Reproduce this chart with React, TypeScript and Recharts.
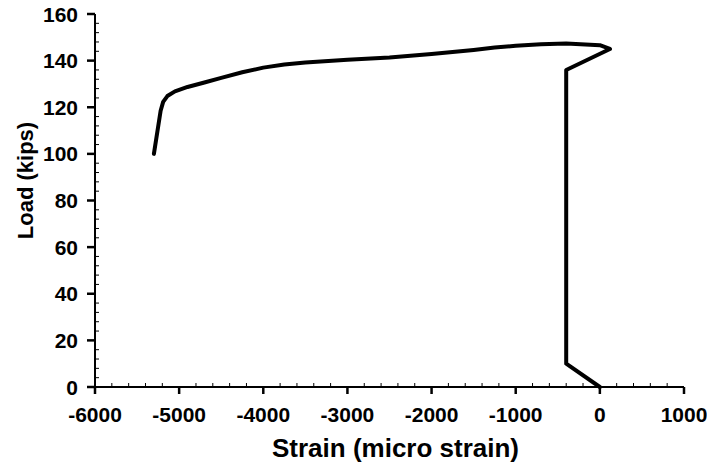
import { Line, LineChart, XAxis, YAxis } from 'recharts';

// strain (micro strain) and load (kips), in the order the gauge trace was recorded
const strain = [0, -400, -400, 120, 0, -400, -700, -1000, -1250, -1500, -2000, -2500, -3000, -3500, -3750, -4000, -4250, -4500, -4700, -4900, -5050, -5140, -5190, -5220, -5300];
const load = [0, 10, 136, 145, 146.6, 147.3, 147, 146.4, 145.6, 144.6, 142.8, 141.3, 140.4, 139.2, 138.3, 137, 135, 132.6, 130.6, 128.7, 126.8, 124.8, 122.3, 118.5, 100];

const xMajorTicks = [-6000, -5000, -4000, -3000, -2000, -1000, 0, 1000];
const yMajorTicks = [0, 20, 40, 60, 80, 100, 120, 140, 160];
const xMinorStep = 200;
const yMinorStep = 4;

const data = strain.map((s, i) => ({ strain: s, load: load[i] }));

const range = (lo: number, hi: number, step: number) => {
  const out: number[] = [];
  for (let v = lo; v <= hi + 1e-9; v += step) out.push(Math.round(v * 1000) / 1000);
  return out;
};

const xMinorTicks = range(xMajorTicks[0], xMajorTicks[xMajorTicks.length - 1], xMinorStep);
const yMinorTicks = range(yMajorTicks[0], yMajorTicks[yMajorTicks.length - 1], yMinorStep);
const xMinorOnly = xMinorTicks.filter((v) => !xMajorTicks.includes(v));
const yMinorOnly = yMinorTicks.filter((v) => !yMajorTicks.includes(v));

const FONT = '"Liberation Sans", Arial, sans-serif';
const TICK_FONT = 21;
const INK = '#000';

function BottomTick({ x, y, payload }: any) {
  const v = payload.value;
  if (xMajorTicks.includes(v)) {
    return (
      <g>
        <line x1={x} y1={y} x2={x} y2={y + 7} stroke={INK} strokeWidth={2.5} />
        <text x={x} y={y + 35} textAnchor="middle" fontFamily={FONT} fontWeight="bold" fontSize={TICK_FONT} fill={INK}>
          {v}
        </text>
      </g>
    );
  }
  return <line x1={x} y1={y} x2={x} y2={y - 4} stroke={INK} strokeWidth={1} />;
}

function LeftTick({ x, y, payload }: any) {
  const v = payload.value;
  if (yMajorTicks.includes(v)) {
    return (
      <g>
        <line x1={x - 8} y1={y} x2={x} y2={y} stroke={INK} strokeWidth={2.5} />
        <text x={x - 17} y={y + 7.5} textAnchor="end" fontFamily={FONT} fontWeight="bold" fontSize={TICK_FONT} fill={INK}>
          {v}
        </text>
      </g>
    );
  }
  return <line x1={x} y1={y} x2={x + 4} y2={y} stroke={INK} strokeWidth={1} />;
}

function TopTick({ x, y }: any) {
  return <line x1={x} y1={y} x2={x} y2={y + 4} stroke={INK} strokeWidth={1} />;
}

function RightTick({ x, y }: any) {
  return <line x1={x} y1={y} x2={x - 4} y2={y} stroke={INK} strokeWidth={1} />;
}

export default function App() {
  return (
    <div style={{ position: 'absolute', left: 0, top: 0 }}>
      <LineChart width={707} height={463} data={data} margin={{ top: 14, right: 23, bottom: 0, left: 0 }}>
        <XAxis
          xAxisId="x"
          dataKey="strain"
          type="number"
          domain={[-6000, 1000]}
          ticks={xMinorTicks}
          interval={0}
          height={76}
          tickSize={0}
          tickMargin={0}
          tickLine={false}
          tick={<BottomTick />}
          axisLine={{ stroke: INK, strokeWidth: 2 }}
          label={{
            content: ({ viewBox }: any) => (
              <text
                x={viewBox.x + viewBox.width / 2 + 6}
                y={viewBox.y + 70}
                textAnchor="middle"
                fontFamily={FONT}
                fontWeight="bold"
                fontSize={26}
                fill={INK}
              >
                Strain (micro strain)
              </text>
            ),
          }}
        />
        <XAxis
          xAxisId="xt"
          orientation="top"
          type="number"
          domain={[-6000, 1000]}
          ticks={xMinorOnly}
          interval={0}
          height={0}
          tickSize={0}
          tickMargin={0}
          tickLine={false}
          tick={<TopTick />}
          axisLine={{ stroke: INK, strokeWidth: 2 }}
        />
        <YAxis
          yAxisId="y"
          type="number"
          domain={[0, 160]}
          ticks={yMinorTicks}
          interval={0}
          width={95}
          tickSize={0}
          tickMargin={0}
          tickLine={false}
          tick={<LeftTick />}
          axisLine={{ stroke: INK, strokeWidth: 2 }}
          label={{
            content: ({ viewBox }: any) => {
              const cx = 25;
              const cy = viewBox.y + viewBox.height / 2 - 20;
              return (
                <text
                  x={cx}
                  y={cy}
                  transform={`rotate(-90 ${cx} ${cy})`}
                  textAnchor="middle"
                  dominantBaseline="central"
                  fontFamily={FONT}
                  fontWeight="bold"
                  fontSize={22}
                  fill={INK}
                >
                  Load (kips)
                </text>
              );
            },
          }}
        />
        <YAxis
          yAxisId="yr"
          orientation="right"
          type="number"
          domain={[0, 160]}
          ticks={yMinorOnly}
          interval={0}
          width={0}
          tickSize={0}
          tickMargin={0}
          tickLine={false}
          tick={<RightTick />}
          axisLine={{ stroke: INK, strokeWidth: 2 }}
        />
        <Line
          xAxisId="x"
          yAxisId="y"
          type="linear"
          dataKey="load"
          stroke={INK}
          strokeWidth={4}
          strokeLinejoin="round"
          strokeLinecap="round"
          dot={false}
          isAnimationActive={false}
        />
      </LineChart>
    </div>
  );
}
